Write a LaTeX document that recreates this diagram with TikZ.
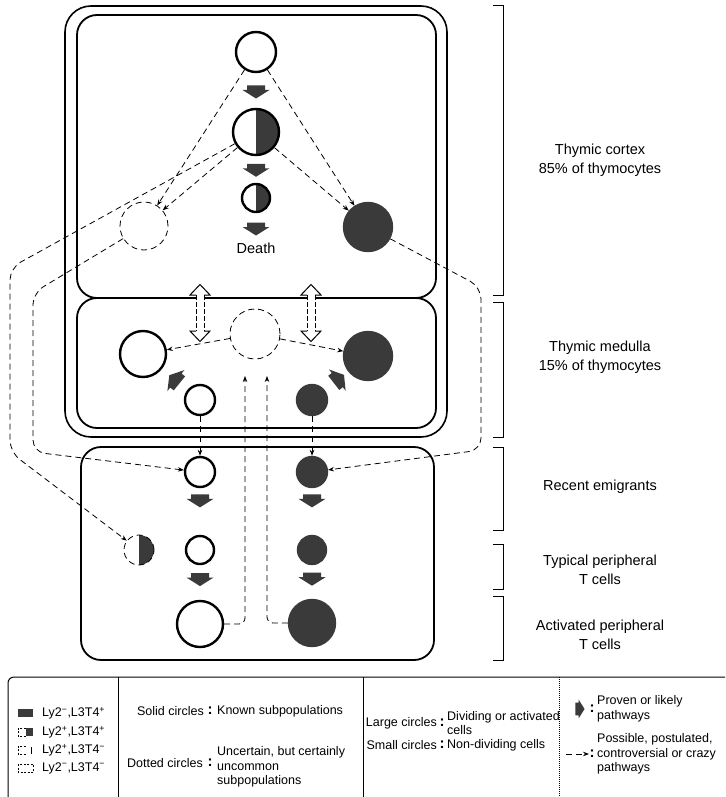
\documentclass[tikz,border=0pt]{standalone}
\usepackage{fontspec}
\setmainfont{Liberation Sans}
\usetikzlibrary{arrows.meta,calc,positioning}

\definecolor{cellgray}{RGB}{58,58,58}

\tikzset{
  cell/.style={circle, draw=black, line width=2.4pt, inner sep=0pt},
  opencell/.style={cell, fill=white},
  solidcell/.style={cell, draw=cellgray, fill=cellgray},
  halfcell/.style={cell, fill=white, path picture={\fill[cellgray] (path picture bounding box.north) rectangle (path picture bounding box.south east);}},
  dottedcell/.style={circle, draw, line width=0.8pt, dash pattern=on 6pt off 4pt, inner sep=0pt},
  halfdotcell/.style={dottedcell, path picture={\fill[cellgray] (path picture bounding box.north) rectangle (path picture bounding box.south east);}},
  maybe/.style={line width=0.8pt, dash pattern=on 6pt off 4pt, -{Stealth[length=6pt,width=4.5pt]}},
  zonebox/.style={line width=1.8pt, rounded corners=20pt},
  zonetext/.style={font=\fontsize{14.5}{19}\selectfont, align=center},
  keytext/.style={font=\fontsize{12.5}{14.5}\selectfont, inner sep=0pt, align=left},
  keycolon/.style={font=\fontsize{15}{15}\selectfont\bfseries, inner sep=0pt},
  fatarrow/.pic={\fill[cellgray] (-9,-6.5) -- (9,-6.5) -- (9,-2) -- (13.5,-2) -- (0,6.5) -- (-13.5,-2) -- (-9,-2) -- cycle;},
  swaparrow/.pic={
    \fill[white] (0,-28.5) -- (10,-18) -- (4,-18) -- (4,18) -- (10,18) -- (0,28.5) -- (-10,18) -- (-4,18) -- (-4,-18) -- (-10,-18) -- cycle;
    \draw[line width=1pt] (-4,-18) -- (-10,-18) -- (0,-28.5) -- (10,-18) -- (4,-18);
    \draw[line width=1pt] (-4,18) -- (-10,18) -- (0,28.5) -- (10,18) -- (4,18);
    \draw[line width=1pt, dash pattern=on 5pt off 2pt] (-4,-18) -- (-4,18) (4,-18) -- (4,18);}
}

\begin{document}
\begin{tikzpicture}[x=1pt, y=-1pt, node distance=78pt]
\useasboundingbox (0,0) rectangle (725,797);

% thymus and periphery
\draw[line width=1.6pt, rounded corners=26pt] (65,6) rectangle (447,437);
\draw[zonebox] (77,15) rectangle (436,298);
\draw[zonebox] (77,298) rectangle (436,428);
\draw[zonebox] (81,447) rectangle (434,660);

% cortex
\node[opencell, minimum size=40pt] (c1) at (256,52) {};
\node[halfcell, minimum size=46pt] (c2) [below of=c1, node distance=80pt] {};
\node[halfcell, minimum size=28pt] (c3) [below of=c2, node distance=66pt] {};
\node[font=\fontsize{14.5}{16}\selectfont] (death) [below of=c3, node distance=50pt] {Death};
\node[dottedcell, minimum size=48pt] (c4) at (144,226) {};
\node[solidcell, minimum size=48pt] (c5) at (368,227) {};
\pic at ($(c1)!.5!(c2)$) {fatarrow};
\pic at ($(c2)!.58!(c3)$) {fatarrow};
\pic at ($(c3)!.62!(death)$) {fatarrow};

% medulla
\node[dottedcell, minimum size=50pt] (m0) at (255,334) {};
\node[opencell, minimum size=46pt] (m1) at (143,354) {};
\node[solidcell, minimum size=48pt] (m2) at (368,356) {};
\node[opencell, minimum size=30pt] (m3) at (200,400) {};
\node[solidcell, minimum size=30pt] (m4) at (312,400) {};
\pic[rotate=-129] at ($(m3)!.45!(m1)$) {fatarrow};
\pic[rotate=128] at ($(m4)!.48!(m2)$) {fatarrow};
\pic at (200,313) {swaparrow};
\pic at (311,313) {swaparrow};

% periphery
\node[opencell, minimum size=30pt] (p1) at (200,472) {};
\node[solidcell, minimum size=30pt] (p2) at (312,472) {};
\node[opencell, minimum size=28pt] (p3) [below of=p1] {};
\node[solidcell, minimum size=28pt] (p4) [below of=p2] {};
\node[halfdotcell, minimum size=30pt] (p5) at (139,550) {};
\node[opencell, minimum size=46pt] (p6) [below of=p3, node distance=74pt] {};
\node[solidcell, minimum size=46pt] (p7) [below of=p4, node distance=73pt] {};
\pic at ($(p1)!.37!(p3)$) {fatarrow};
\pic at ($(p2)!.37!(p4)$) {fatarrow};
\pic at ($(p3)!.4!(p6)$) {fatarrow};
\pic at ($(p4)!.4!(p7)$) {fatarrow};

\coordinate (upL) at (245,376);
\coordinate (upR) at (267,376);

% possible pathways
\draw[maybe] (c1) -- (c4);
\draw[maybe] (c2) -- (c4);
\draw[maybe] (c1) -- (c5);
\draw[maybe] (c2) -- (c5);
\draw[maybe, rounded corners=12pt] (c2) -- (10,268) -- (10,452) -- (p5);
\draw[maybe, rounded corners=12pt] (c4) -- (33,293) -- (33,452) -- (p1);
\draw[maybe, rounded corners=12pt] (c5) -- (481,287) -- (481,450) -- (p2);
\draw[maybe] (m0) -- (m1);
\draw[maybe] (m0) -- (m2);
\draw[maybe] (m3) -- (p1);
\draw[maybe] (m4) -- (p2);
\draw[maybe, rounded corners=6pt] (p6) -- (245,624) -- (upL);
\draw[maybe, rounded corners=6pt] (p7) -- (267,623) -- (upR);

% brackets
\draw[line width=1pt] (493,6) -- (503,6) -- (503,295) -- (493,295);
\draw[line width=1pt] (493,302) -- (503,302) -- (503,437) -- (493,437);
\draw[line width=1pt] (493,447) -- (503,447) -- (503,530) -- (493,530);
\draw[line width=1pt] (493,544) -- (503,544) -- (503,589) -- (493,589);
\draw[line width=1pt] (493,596) -- (503,596) -- (503,660) -- (493,660);
\node[zonetext] (cortex) at (600,160) {Thymic cortex\\85\% of thymocytes};
\node[zonetext] (medulla) at (600,357) {Thymic medulla\\15\% of thymocytes};
\node[zonetext] (recent) at (600,487) {Recent emigrants};
\node[zonetext] (typical) at (600,570) {Typical peripheral\\T cells};
\node[zonetext] (activated) at (600,635) {Activated peripheral\\T cells};

% legend
\draw[line width=1pt, rounded corners=6pt] (8,797) -- (8,677) -- (725,677);
\draw[line width=0.8pt] (118,677) -- (118,797) (363,677) -- (363,797);
\draw[line width=0.6pt, dash pattern=on 1pt off 1pt] (559,677) -- (559,797);

\fill[cellgray] (18,709) rectangle (33,717);
\draw[line width=0.6pt, dash pattern=on 2pt off 1.5pt] (25.5,728) -- (18,728) -- (18,736) -- (25.5,736);
\fill[cellgray] (25.5,728) rectangle (33,736);
\draw[line width=0.6pt, dash pattern=on 2pt off 1.5pt] (25.5,746) -- (18,746) -- (18,754) -- (25.5,754);
\draw[line width=1pt] (31,747) -- (31,754);
\draw[line width=0.6pt, dash pattern=on 2pt off 1.5pt] (18,764) rectangle (33,772);
\node[keytext, anchor=west] (k1) at (42,713) {Ly2\textsuperscript{−},L3T4\textsuperscript{+}};
\node[keytext, anchor=west] (k2) at (42,732) {Ly2\textsuperscript{+},L3T4\textsuperscript{+}};
\node[keytext, anchor=west] (k3) at (42,750) {Ly2\textsuperscript{+},L3T4\textsuperscript{−}};
\node[keytext, anchor=west] (k4) at (42,768) {Ly2\textsuperscript{−},L3T4\textsuperscript{−}};

\node[keytext, anchor=east] (solid) at (204,711) {Solid circles};
\node[keycolon] (solidc) at (210,711) {:};
\node[keytext, anchor=west] (solidt) at (217,711) {Known subpopulations};
\node[keytext, anchor=east] (dotted) at (203,763) {Dotted circles};
\node[keycolon] (dottedc) at (210,763) {:};
\node[keytext, anchor=west] (dottedt) at (217,767) {Uncertain, but certainly\\uncommon\\subpopulations};

\node[keytext, anchor=east] (large) at (437,723) {Large circles};
\node[keycolon] (largec) at (442,723) {:};
\node[keytext, anchor=west] (larget) at (447,723) {Dividing or activated\\cells};
\node[keytext, anchor=east] (small) at (437,745) {Small circles};
\node[keycolon] (smallc) at (442,745) {:};
\node[keytext, anchor=west] (smallt) at (447,745) {Non-dividing cells};

\pic[rotate=90, scale=0.7] at (580,709) {fatarrow};
\node[keycolon] (provenc) at (592,709) {:};
\node[keytext, anchor=west] (provent) at (597,709) {Proven or likely\\pathways};
\coordinate (keyA) at (566,754);
\coordinate (keyB) at (589,754);
\draw[maybe] (keyA) -- (keyB);
\node[keycolon] (possiblec) at (592,754) {:};
\node[keytext, anchor=west] (possiblet) at (597,754) {Possible, postulated,\\controversial or crazy\\pathways};
\end{tikzpicture}
\end{document}
